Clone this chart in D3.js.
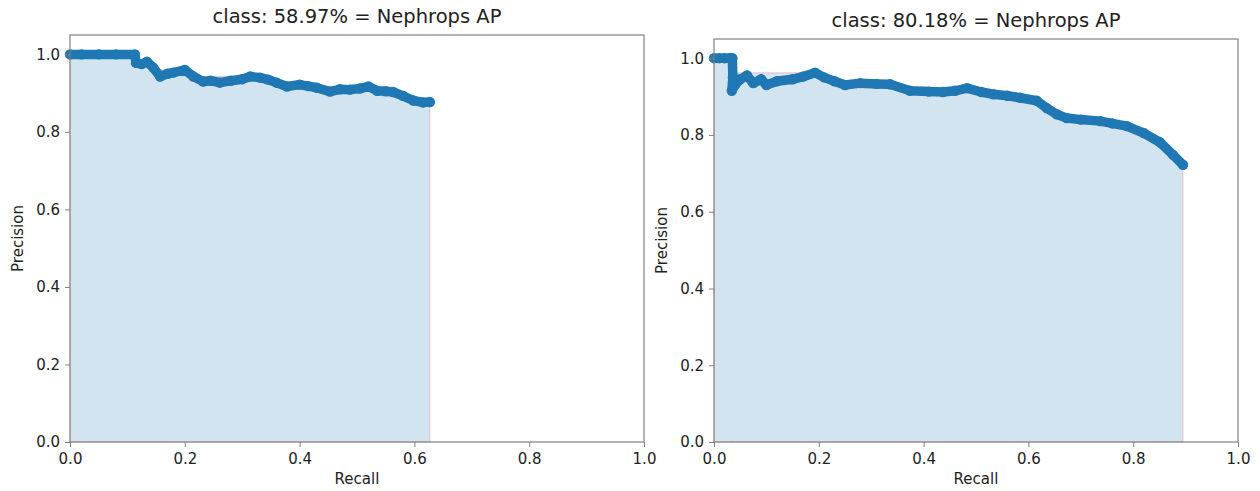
<!DOCTYPE html>
<html lang="en">
<head>
  <meta charset="UTF-8">
  <title>Nephrops AP</title>
  <script src="https://d3js.org/d3.v7.min.js"></script>
  <style>
    body { margin: 0; background: #fff; }
    svg text { font-family: "DejaVu Sans", sans-serif; fill: #222; }
  </style>
</head>
<body>
  <svg id="chart" width="1260" height="491"></svg>

  <script>
    // valores
    const tickValues = [0, 0.2, 0.4, 0.6, 0.8, 1.0];

    const leftTitle = "class: 58.97% = Nephrops AP";
    const leftRecall = [0, 0.02, 0.05, 0.08, 0.113, 0.115, 0.125, 0.134, 0.145, 0.157, 0.17, 0.18, 0.2,
      0.215, 0.232, 0.245, 0.261, 0.28, 0.3, 0.314, 0.331, 0.345, 0.36, 0.378, 0.4, 0.415, 0.43,
      0.453, 0.47, 0.488, 0.505, 0.52, 0.535, 0.55, 0.563, 0.58, 0.598, 0.615, 0.627];
    const leftPrecision = [1, 1, 1, 1, 1, 0.978, 0.975, 0.981, 0.966, 0.943, 0.95, 0.953, 0.96,
      0.943, 0.93, 0.932, 0.927, 0.932, 0.936, 0.943, 0.94, 0.935, 0.927, 0.917, 0.922, 0.918, 0.914,
      0.904, 0.91, 0.909, 0.912, 0.917, 0.906, 0.905, 0.903, 0.893, 0.881, 0.876, 0.877];

    const rightTitle = "class: 80.18% = Nephrops AP";
    const rightRecall = [0, 0.01, 0.02, 0.03, 0.035, 0.036, 0.034, 0.04, 0.05, 0.063, 0.075, 0.09,
      0.1, 0.12, 0.15, 0.17, 0.193, 0.21, 0.23, 0.25, 0.279, 0.31, 0.336, 0.374, 0.41, 0.437, 0.46,
      0.483, 0.51, 0.533, 0.56, 0.584, 0.616, 0.635, 0.654, 0.673, 0.7, 0.737, 0.76, 0.788, 0.82,
      0.851, 0.876, 0.895];
    const rightPrecision = [1, 1, 1, 1, 1, 0.95, 0.915, 0.93, 0.945, 0.955, 0.935, 0.945,
      0.93, 0.94, 0.945, 0.952, 0.962, 0.95, 0.94, 0.93, 0.935, 0.933, 0.932, 0.915, 0.913, 0.912, 0.915,
      0.922, 0.912, 0.906, 0.902, 0.897, 0.889, 0.87, 0.854, 0.844, 0.84, 0.836, 0.83, 0.823, 0.805,
      0.781, 0.748, 0.722];

    const svg = d3.select("#chart");

    function drawPanel(title, recall, precision, box) {
      const x = d3.scaleLinear().domain([0, 1]).range([box.left, box.right]);
      const y = d3.scaleLinear().domain([0, 1.05]).range([box.bottom, box.top]);
      const g = svg.append("g");

      // precisão interpolada (máximo à direita) para o preenchimento
      const points = recall.map((r, i) => ({ r, p: precision[i], m: d3.max(precision.slice(i)) }));

      g.append("path")
        .datum(points)
        .attr("d", d3.area().x(d => x(d.r)).y0(y(0)).y1(d => y(d.m)))
        .attr("fill", "rgb(210,228,240)")
        .attr("stroke", "rgba(255,0,0,0.2)")
        .attr("stroke-width", 1);

      g.append("path")
        .datum(points)
        .attr("d", d3.line().x(d => x(d.r)).y(d => y(d.p)))
        .attr("fill", "none")
        .attr("stroke", "#1f77b4")
        .attr("stroke-width", 9.5)
        .attr("stroke-linejoin", "round")
        .attr("stroke-linecap", "round");

      g.selectAll(".pt")
        .data(points)
        .enter()
        .append("circle")
        .attr("cx", d => x(d.r))
        .attr("cy", d => y(d.p))
        .attr("r", 5.2)
        .attr("fill", "#1f77b4");

      // moldura
      g.append("rect")
        .attr("x", box.left)
        .attr("y", box.top)
        .attr("width", box.right - box.left)
        .attr("height", box.bottom - box.top)
        .attr("fill", "none")
        .attr("stroke", "#808080")
        .attr("stroke-width", 1.2);

      const xAxis = g.append("g")
        .attr("transform", `translate(0,${box.bottom})`)
        .call(d3.axisBottom(x).tickValues(tickValues).tickFormat(d3.format(".1f")).tickSize(5).tickPadding(6));
      const yAxis = g.append("g")
        .attr("transform", `translate(${box.left},0)`)
        .call(d3.axisLeft(y).tickValues(tickValues).tickFormat(d3.format(".1f")).tickSize(5).tickPadding(5));

      [xAxis, yAxis].forEach(a => {
        a.select(".domain").remove();
        a.selectAll(".tick line").attr("stroke", "#808080");
        a.selectAll(".tick text").style("font-size", "15px").attr("fill", "#222");
      });

      const cx = (box.left + box.right) / 2;
      g.append("text")
        .attr("x", cx)
        .attr("y", box.top - 12)
        .attr("text-anchor", "middle")
        .style("font-size", "19.5px")
        .text(title);

      g.append("text")
        .attr("x", cx)
        .attr("y", 484)
        .attr("text-anchor", "middle")
        .style("font-size", "15px")
        .text("Recall");

      g.append("text")
        .attr("transform", `translate(${box.left - 47},${(box.top + box.bottom) / 2}) rotate(-90)`)
        .attr("text-anchor", "middle")
        .style("font-size", "15px")
        .text("Precision");
    }

    drawPanel(leftTitle, leftRecall, leftPrecision, { left: 70, right: 644, top: 35, bottom: 442 });
    drawPanel(rightTitle, rightRecall, rightPrecision, { left: 714, right: 1238, top: 39, bottom: 442 });
  </script>
</body>
</html>
